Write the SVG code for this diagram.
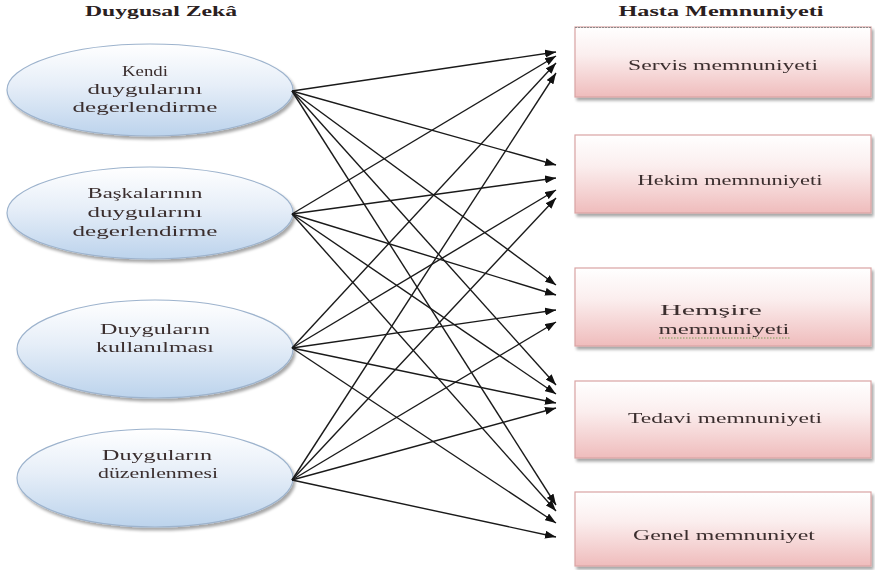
<svg xmlns="http://www.w3.org/2000/svg" width="875" height="570" viewBox="0 0 875 570">
<defs>
  <linearGradient id="gBlue" x1="0" y1="0" x2="0" y2="1">
    <stop offset="0" stop-color="#ffffff"/>
    <stop offset="0.45" stop-color="#e6eef8"/>
    <stop offset="1" stop-color="#bcd3ec"/>
  </linearGradient>
  <linearGradient id="gPink" x1="0" y1="0" x2="0" y2="1">
    <stop offset="0" stop-color="#ffffff"/>
    <stop offset="0.4" stop-color="#fbeeee"/>
    <stop offset="1" stop-color="#efbcbc"/>
  </linearGradient>
  <filter id="shadow" x="-10%" y="-10%" width="125%" height="135%">
    <feGaussianBlur in="SourceAlpha" stdDeviation="1.8"/>
    <feOffset dx="2" dy="3" result="b"/>
    <feComponentTransfer><feFuncA type="linear" slope="0.35"/></feComponentTransfer>
    <feMerge><feMergeNode/><feMergeNode in="SourceGraphic"/></feMerge>
  </filter>
  <marker id="arrow" markerUnits="userSpaceOnUse" markerWidth="11" markerHeight="8" refX="11" refY="4" orient="auto">
    <path d="M0,0 L11,4 L0,8 z" fill="#111"/>
  </marker>
</defs>
<style>
  .ell { fill: url(#gBlue); stroke: #9db3cd; stroke-width: 1.2; }
  .box { fill: url(#gPink); stroke: #d9a4a4; stroke-width: 1.2; }
  .boxtop { stroke: #8a8a8a; stroke-width: 1; stroke-dasharray: 2 1; }
  .t { font-family: "Liberation Serif", "DejaVu Serif", "Times New Roman", serif; font-size: 15px; fill: #3a2e2e; text-anchor: middle; }
  .title { font-family: "Liberation Serif", "DejaVu Serif", "Times New Roman", serif; font-size: 14px; font-weight: bold; fill: #2a2020; text-anchor: middle; }
  .conn line { stroke: #1a1a1a; stroke-width: 1.4; marker-end: url(#arrow); }
</style>
<rect width="875" height="570" fill="#ffffff"/>

<g id="title-left"><text class="title" x="161" y="16" textLength="152" lengthAdjust="spacingAndGlyphs">Duygusal Zekâ</text></g>
<g id="title-right"><text class="title" x="721" y="16" textLength="205" lengthAdjust="spacingAndGlyphs">Hasta Memnuniyeti</text></g>

<g id="e1" filter="url(#shadow)">
  <ellipse class="ell" cx="150" cy="90" rx="143" ry="46"/>
  <text class="t" x="145" y="76" textLength="46" lengthAdjust="spacingAndGlyphs">Kendi</text>
  <text class="t" x="145" y="94" textLength="115" lengthAdjust="spacingAndGlyphs">duygularını</text>
  <text class="t" x="145" y="112" textLength="145" lengthAdjust="spacingAndGlyphs">degerlendirme</text>
</g>
<g id="e2" filter="url(#shadow)">
  <ellipse class="ell" cx="150" cy="213" rx="143" ry="46"/>
  <text class="t" x="145" y="198" textLength="115" lengthAdjust="spacingAndGlyphs">Başkalarının</text>
  <text class="t" x="145" y="217" textLength="115" lengthAdjust="spacingAndGlyphs">duygularını</text>
  <text class="t" x="145" y="236" textLength="145" lengthAdjust="spacingAndGlyphs">degerlendirme</text>
</g>
<g id="e3" filter="url(#shadow)">
  <ellipse class="ell" cx="155" cy="349" rx="138" ry="49"/>
  <text class="t" x="155" y="334" textLength="110" lengthAdjust="spacingAndGlyphs">Duyguların</text>
  <text class="t" x="155" y="352" textLength="118" lengthAdjust="spacingAndGlyphs">kullanılması</text>
</g>
<g id="e4" filter="url(#shadow)">
  <ellipse class="ell" cx="155" cy="478" rx="138" ry="49"/>
  <text class="t" x="157" y="460" textLength="110" lengthAdjust="spacingAndGlyphs">Duyguların</text>
  <text class="t" x="158" y="478" textLength="120" lengthAdjust="spacingAndGlyphs">düzenlenmesi</text>
</g>

<g id="b1" filter="url(#shadow)">
  <rect class="box" x="575" y="27" width="296" height="70"/>
  <line class="boxtop" x1="575" y1="27.5" x2="871" y2="27.5"/>
  <text class="t" x="723" y="70" textLength="190" lengthAdjust="spacingAndGlyphs">Servis memnuniyeti</text>
</g>
<g id="b2" filter="url(#shadow)">
  <rect class="box" x="575" y="135" width="296" height="78"/>
  <text class="t" x="730" y="185" textLength="185" lengthAdjust="spacingAndGlyphs">Hekim memnuniyeti</text>
</g>
<g id="b3" filter="url(#shadow)">
  <rect class="box" x="575" y="268" width="296" height="78"/>
  <text class="t" x="711" y="315" textLength="102" lengthAdjust="spacingAndGlyphs">Hemşire</text>
  <text class="t" x="724" y="334" textLength="131" lengthAdjust="spacingAndGlyphs">memnuniyeti</text>
  <line x1="659" y1="338" x2="790" y2="338" stroke="#7a9e5a" stroke-width="1" stroke-dasharray="1.5 1.5"/>
</g>
<g id="b4" filter="url(#shadow)">
  <rect class="box" x="575" y="381" width="296" height="77"/>
  <text class="t" x="725" y="423" textLength="194" lengthAdjust="spacingAndGlyphs">Tedavi memnuniyeti</text>
</g>
<g id="b5" filter="url(#shadow)">
  <rect class="box" x="575" y="492" width="296" height="74"/>
  <text class="t" x="724" y="540" textLength="182" lengthAdjust="spacingAndGlyphs">Genel memnuniyet</text>
</g>

<g id="connectors" class="conn">
  <line x1="292" y1="91" x2="556" y2="52"/>
  <line x1="292" y1="91" x2="556" y2="165"/>
  <line x1="292" y1="91" x2="556" y2="285"/>
  <line x1="292" y1="91" x2="556" y2="385"/>
  <line x1="292" y1="91" x2="556" y2="505"/>

  <line x1="292" y1="214" x2="556" y2="56"/>
  <line x1="292" y1="214" x2="556" y2="178"/>
  <line x1="292" y1="214" x2="556" y2="295"/>
  <line x1="292" y1="214" x2="556" y2="394"/>
  <line x1="292" y1="214" x2="556" y2="511"/>

  <line x1="292" y1="348" x2="556" y2="63"/>
  <line x1="292" y1="348" x2="556" y2="190"/>
  <line x1="292" y1="348" x2="556" y2="310"/>
  <line x1="292" y1="348" x2="556" y2="403"/>
  <line x1="292" y1="348" x2="556" y2="523"/>

  <line x1="292" y1="480" x2="556" y2="73"/>
  <line x1="292" y1="480" x2="556" y2="198"/>
  <line x1="292" y1="480" x2="556" y2="322"/>
  <line x1="292" y1="480" x2="556" y2="408"/>
  <line x1="292" y1="480" x2="556" y2="537"/>
</g>
</svg>
